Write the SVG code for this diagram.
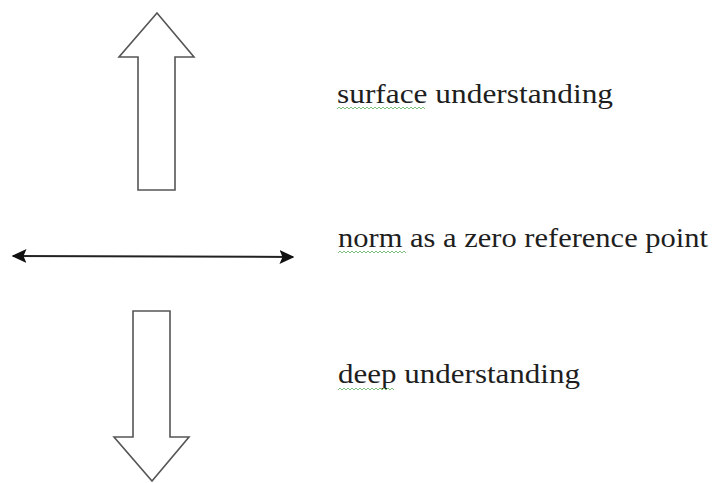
<svg xmlns="http://www.w3.org/2000/svg" width="716" height="483" viewBox="0 0 716 483">
<defs>
<style>
.blk{fill:#fff;stroke:#555;stroke-width:1.6;stroke-linejoin:miter}
.lbl{font-family:"Liberation Serif","Times New Roman",serif;font-size:27px;fill:#1e1e1e}
.sq{fill:none;stroke:#7fbf7f;stroke-width:1}
.ln{stroke:#222;stroke-width:2}
</style>
<marker id="ah" viewBox="0 0 10 10" refX="9" refY="5" markerWidth="15" markerHeight="14" markerUnits="userSpaceOnUse" orient="auto-start-reverse" preserveAspectRatio="none">
<path d="M0,0 L10,5 L0,10 L2,5 z" fill="#111"/>
</marker>
</defs>
<rect width="716" height="483" fill="#fff"/>
<g id="up-arrow">
<polygon class="blk" points="157,13 194,57 175,57 175,190 138,190 138,57 119,57"/>
</g>
<g id="down-arrow">
<polygon class="blk" points="133,311 170,311 170,437 189,437 152,481 114,437 133,437"/>
</g>
<g id="connectors">
<line class="ln" x1="13" y1="256" x2="293" y2="257" marker-start="url(#ah)" marker-end="url(#ah)"/>
</g>
<g id="label-surface">
<text class="lbl" x="337" y="103" textLength="276" lengthAdjust="spacingAndGlyphs">surface understanding</text>
<path class="sq" d="M337,109 l2,-2 l2,2 l2,-2 l2,2 l2,-2 l2,2 l2,-2 l2,2 l2,-2 l2,2 l2,-2 l2,2 l2,-2 l2,2 l2,-2 l2,2 l2,-2 l2,2 l2,-2 l2,2 l2,-2 l2,2 l2,-2 l2,2 l2,-2 l2,2 l2,-2 l2,2 l2,-2 l2,2 l2,-2 l2,2 l2,-2 l2,2 l2,-2 l2,2 l2,-2 l2,2 l2,-2 l2,2 l2,-2 l2,2 l2,-2 l2,2"/>
</g>
<g id="label-norm">
<text class="lbl" x="338" y="247" textLength="370" lengthAdjust="spacingAndGlyphs">norm as a zero reference point</text>
<path class="sq" d="M338,253 l2,-2 l2,2 l2,-2 l2,2 l2,-2 l2,2 l2,-2 l2,2 l2,-2 l2,2 l2,-2 l2,2 l2,-2 l2,2 l2,-2 l2,2 l2,-2 l2,2 l2,-2 l2,2 l2,-2 l2,2 l2,-2 l2,2 l2,-2 l2,2 l2,-2 l2,2 l2,-2 l2,2 l2,-2 l2,2 l2,-2 l2,2"/>
</g>
<g id="label-deep">
<text class="lbl" x="338" y="383" textLength="242" lengthAdjust="spacingAndGlyphs">deep understanding</text>
<path class="sq" d="M338,390 l2,-2 l2,2 l2,-2 l2,2 l2,-2 l2,2 l2,-2 l2,2 l2,-2 l2,2 l2,-2 l2,2 l2,-2 l2,2 l2,-2 l2,2 l2,-2 l2,2 l2,-2 l2,2 l2,-2 l2,2 l2,-2 l2,2 l2,-2 l2,2 l2,-2 l2,2"/>
</g>
</svg>
